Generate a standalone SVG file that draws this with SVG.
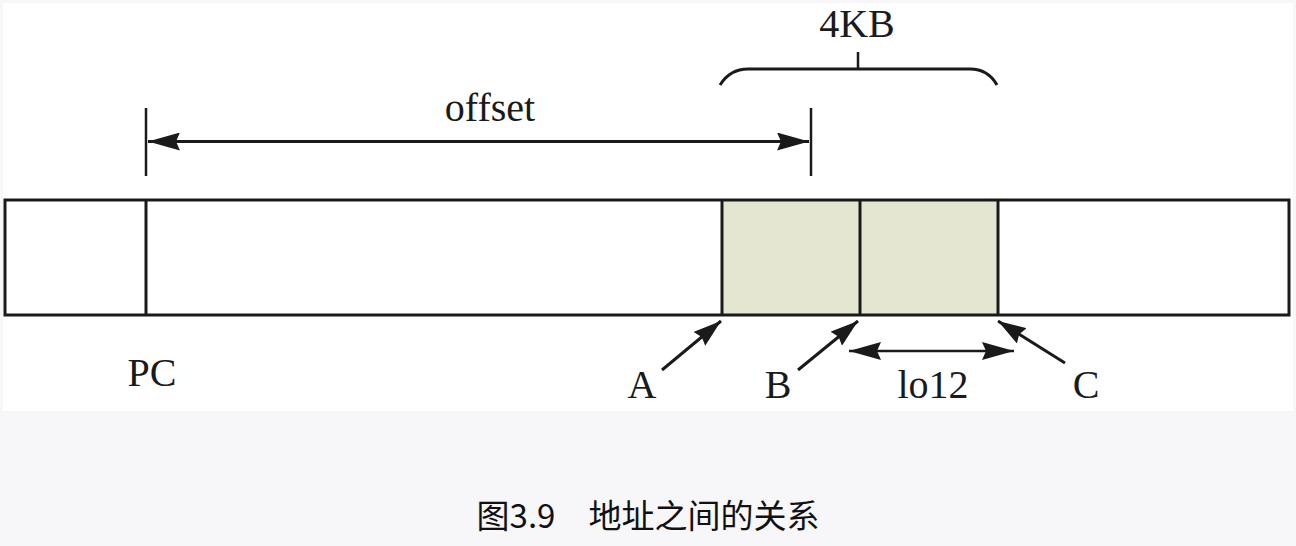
<svg xmlns="http://www.w3.org/2000/svg" width="1296" height="546" viewBox="0 0 1296 546">
<style>
.ln{stroke:#1a1a1a;fill:none;stroke-width:3}
.thin{stroke:#1a1a1a;fill:none;stroke-width:2.5}
.lbl{font-family:"Liberation Serif","Times New Roman",serif;font-size:40px;fill:#1a1a1a;text-anchor:middle}
.cap{font-family:"Noto Sans CJK SC","Noto Sans",sans-serif;font-size:33px;fill:#111;text-anchor:middle}
</style>
<defs>
<marker id="ah" viewBox="0 0 32 18" refX="32" refY="9" markerWidth="32" markerHeight="18" markerUnits="userSpaceOnUse" orient="auto-start-reverse">
<path d="M0,0 L32,9 L0,18 L4,9 Z" fill="#1a1a1a"/>
</marker>
<marker id="ah2" viewBox="0 0 28 18" refX="28" refY="9" markerWidth="28" markerHeight="18" markerUnits="userSpaceOnUse" orient="auto-start-reverse">
<path d="M0,0 L28,9 L0,18 L3,9 Z" fill="#1a1a1a"/>
</marker>
</defs>
<rect x="0" y="0" width="1296" height="546" fill="#f7f7f9"/>
<rect x="3" y="3" width="1290" height="408" fill="#ffffff"/>
<g id="memory-bar">
<rect x="722" y="200" width="276" height="115" fill="#e4e6d2"/>
<rect x="5" y="200" width="1284" height="115" class="ln"/>
<line x1="146" y1="200" x2="146" y2="315" class="ln"/>
<line x1="722" y1="200" x2="722" y2="315" class="ln"/>
<line x1="860" y1="200" x2="860" y2="315" class="ln"/>
<line x1="998" y1="200" x2="998" y2="315" class="ln"/>
</g>
<g id="brace-4kb">
<path d="M720,85 Q730,69 748,69 L970,69 Q988,69 997,85" class="ln"/>
<line x1="858" y1="52" x2="858" y2="69" class="thin" stroke-width="2"/>
<text x="857" y="37" class="lbl">4KB</text>
</g>
<g id="labels">
<text x="490" y="121" class="lbl">offset</text>
<text x="152" y="386" class="lbl">PC</text>
<text x="642" y="398" class="lbl">A</text>
<text x="778" y="398" class="lbl">B</text>
<text x="933" y="398" class="lbl">lo12</text>
<text x="1086" y="398" class="lbl">C</text>
</g>
<g id="connectors">
<line x1="146" y1="108" x2="146" y2="176" class="thin"/>
<line x1="811" y1="108" x2="811" y2="176" class="thin"/>
<line x1="148" y1="141.5" x2="809" y2="141.5" class="ln" marker-start="url(#ah)" marker-end="url(#ah)"/>
<line x1="662" y1="370" x2="721" y2="321" class="ln" marker-end="url(#ah2)"/>
<line x1="798" y1="370" x2="858" y2="321" class="ln" marker-end="url(#ah2)"/>
<line x1="1065" y1="363" x2="998" y2="321" class="ln" marker-end="url(#ah2)"/>
<line x1="849" y1="351" x2="1014" y2="351" class="thin" marker-start="url(#ah)" marker-end="url(#ah)"/>
</g>
<text x="648" y="528" class="cap">图3.9　地址之间的关系</text>
</svg>
